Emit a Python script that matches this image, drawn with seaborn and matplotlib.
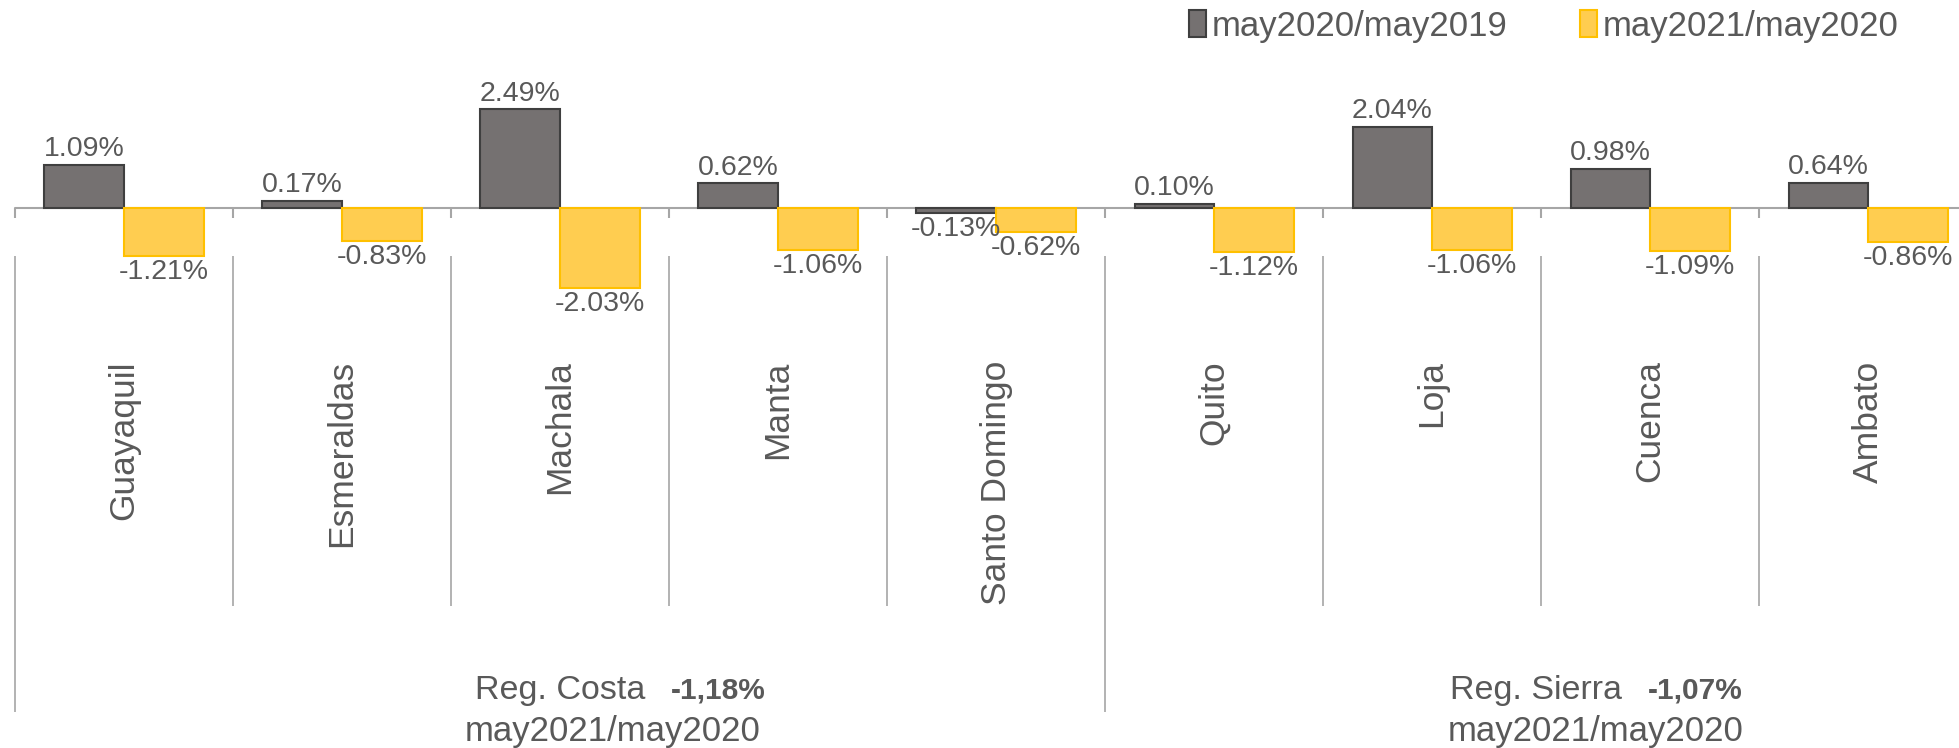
import pandas as pd
import matplotlib
matplotlib.use("Agg")
import matplotlib.pyplot as plt
import seaborn as sns
from matplotlib.patches import Patch

# data
cities = ["Guayaquil", "Esmeraldas", "Machala", "Manta", "Santo Domingo",
          "Quito", "Loja", "Cuenca", "Ambato"]
var_2020 = [1.09, 0.17, 2.49, 0.62, -0.13, 0.10, 2.04, 0.98, 0.64]
var_2021 = [-1.21, -0.83, -2.03, -1.06, -0.62, -1.12, -1.06, -1.09, -0.86]
series = ["may2020/may2019", "may2021/may2020"]
regions = ["Reg. Costa", "Reg. Sierra"]
region_values = ["-1,18%", "-1,07%"]
region_sizes = [5, 4]

fill_colors = ["#757171", "#FFCD50"]
edge_colors = ["#3F3F3F", "#FFC000"]
txt = "#595959"
line_c = "#A6A6A6"

df = pd.DataFrame({
    "city": cities * 2,
    "value": var_2020 + var_2021,
    "period": [series[0]] * len(cities) + [series[1]] * len(cities),
})

sns.set_style("white")
fam = ["Liberation Sans", "DejaVu Sans"]

fig = plt.figure(figsize=(19.59, 7.48), dpi=100)
ax = fig.add_axes([0, 0, 1, 1])

sns.barplot(data=df, x="city", y="value", hue="period", palette=fill_colors,
            width=0.73, saturation=1, legend=False, ax=ax)

for cont, ec in zip(ax.containers, edge_colors):
    for bar in cont:
        bar.set_edgecolor(ec)
        bar.set_linewidth(1.5)
    labels = [f"{b.get_height():.2f}%" for b in cont]
    ax.bar_label(cont, labels=labels, padding=2, color=txt, fontsize=20.5,
                 family=fam)

n = len(cities)
bounds = [i - 0.5 for i in range(n + 1)]

# baseline and ticks
ax.plot([-0.5, n - 0.5], [0, 0], color=line_c, lw=1.5, zorder=0)
ax.vlines(bounds, -0.25, 0, color=line_c, lw=1.5)

# category separators
region_edges = [-0.5]
for s in region_sizes:
    region_edges.append(region_edges[-1] + s)
inner = [b for b in bounds if b not in region_edges]
ax.vlines(inner, -10.05, -1.21, color=line_c, lw=1.2)
ax.vlines(region_edges, -12.73, -1.21, color=line_c, lw=1.2)

# category names
for i, c in enumerate(cities):
    ax.text(i, -3.85, c, rotation=90, ha="center", va="top", color=txt,
            fontsize=25.5, family=fam)

# region labels
region_name_end = [2.39, 6.87]
region_sub_center = [2.24, 6.75]
for r, v, xe, xc in zip(regions, region_values, region_name_end, region_sub_center):
    ax.text(xe, -12.2, r, ha="right", va="center", color=txt, fontsize=24.5,
            family=fam)
    ax.text(xe + 0.12, -12.2, v, ha="left", va="center", color=txt,
            fontsize=21.5, fontweight="bold", family=fam)
    ax.text(xc, -13.23, "may2021/may2020", ha="center", va="center",
            color=txt, fontsize=25, family=fam)

handles = [Patch(facecolor=f, edgecolor=e, lw=1.5) for f, e in zip(fill_colors, edge_colors)]
leg = ax.legend(handles, series, loc="center right", bbox_to_anchor=(0.985, 0.965),
                ncol=2, frameon=False, handlelength=0.5, handleheight=0.8,
                handletextpad=0.15, columnspacing=2.1,
                prop={"family": fam, "size": 25})
for t in leg.get_texts():
    t.set_color(txt)

ax.set_xlim(-0.569, 8.417)
ax.set_ylim(-13.64, 5.25)
ax.axis("off")

fig.savefig("out.png", dpi=100)
